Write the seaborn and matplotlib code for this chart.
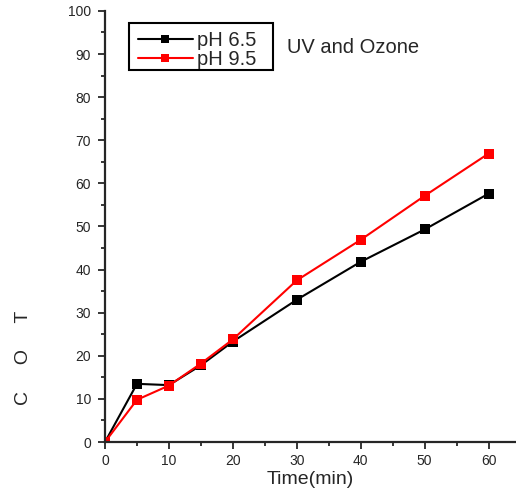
import pandas as pd
import seaborn as sns
import matplotlib.pyplot as plt
from matplotlib.patches import Rectangle
from matplotlib.ticker import MultipleLocator

time_min = [0, 5, 10, 15, 20, 30, 40, 50, 60]
toc_ph65 = [0, 13.5, 13.2, 17.8, 23.3, 33.0, 41.8, 49.3, 57.6]
toc_ph95 = [0, 9.8, 13.1, 18.2, 23.8, 37.5, 46.9, 57.1, 66.9]
series_names = ['pH 6.5', 'pH 9.5']

sns.set_style('ticks')
plt.rcParams['font.family'] = ['Liberation Sans', 'DejaVu Sans']

df = pd.concat([
    pd.DataFrame({'time': time_min, 'toc': toc_ph65, 'series': series_names[0]}),
    pd.DataFrame({'time': time_min, 'toc': toc_ph95, 'series': series_names[1]}),
])

fig = plt.figure(figsize=(5.16, 4.95), dpi=100)
ax = fig.add_axes([0.2035, 0.107, 0.7965, 0.871])

sns.lineplot(data=df, x='time', y='toc', hue='series',
             palette={'pH 6.5': 'black', 'pH 9.5': 'red'},
             marker='s', markersize=7, markeredgewidth=0, linewidth=1.5,
             ax=ax)

ax.set_xlim(0, 64.3)
ax.set_ylim(0, 100)
ax.xaxis.set_major_locator(MultipleLocator(10))
ax.xaxis.set_minor_locator(MultipleLocator(5))
ax.yaxis.set_major_locator(MultipleLocator(10))
ax.yaxis.set_minor_locator(MultipleLocator(5))
ax.tick_params(which='major', direction='out', length=5, width=1.3, labelsize=10)
ax.tick_params(axis='y', which='major', pad=5)
ax.tick_params(which='minor', direction='out', length=3, width=1.3)
ax.set_xlabel('Time(min)', fontsize=14, labelpad=2)
ax.set_ylabel('C     O     T', fontsize=14, labelpad=0)
ax.yaxis.set_label_coords(-0.178, 0.195)

sns.despine(ax=ax)
for side in ['left', 'bottom']:
    ax.spines[side].set_linewidth(1.6)

# legend entries without frame, box drawn separately (wider side padding like the original)
ax.legend(loc='upper left', bbox_to_anchor=(0.080, 0.954), fontsize=14.5,
          frameon=False, borderaxespad=0, borderpad=0, labelspacing=0.03,
          handlelength=2.73, handletextpad=0.2, markerscale=0.75)
ax.add_patch(Rectangle((0.0584, 0.863), 0.3504, 0.109, transform=ax.transAxes,
                       fill=False, edgecolor='black', linewidth=1.5, zorder=5))

ax.text(0.443, 0.914, 'UV and Ozone', transform=ax.transAxes, fontsize=14.5,
        va='center', ha='left')

fig.savefig('out.png', dpi=100)
